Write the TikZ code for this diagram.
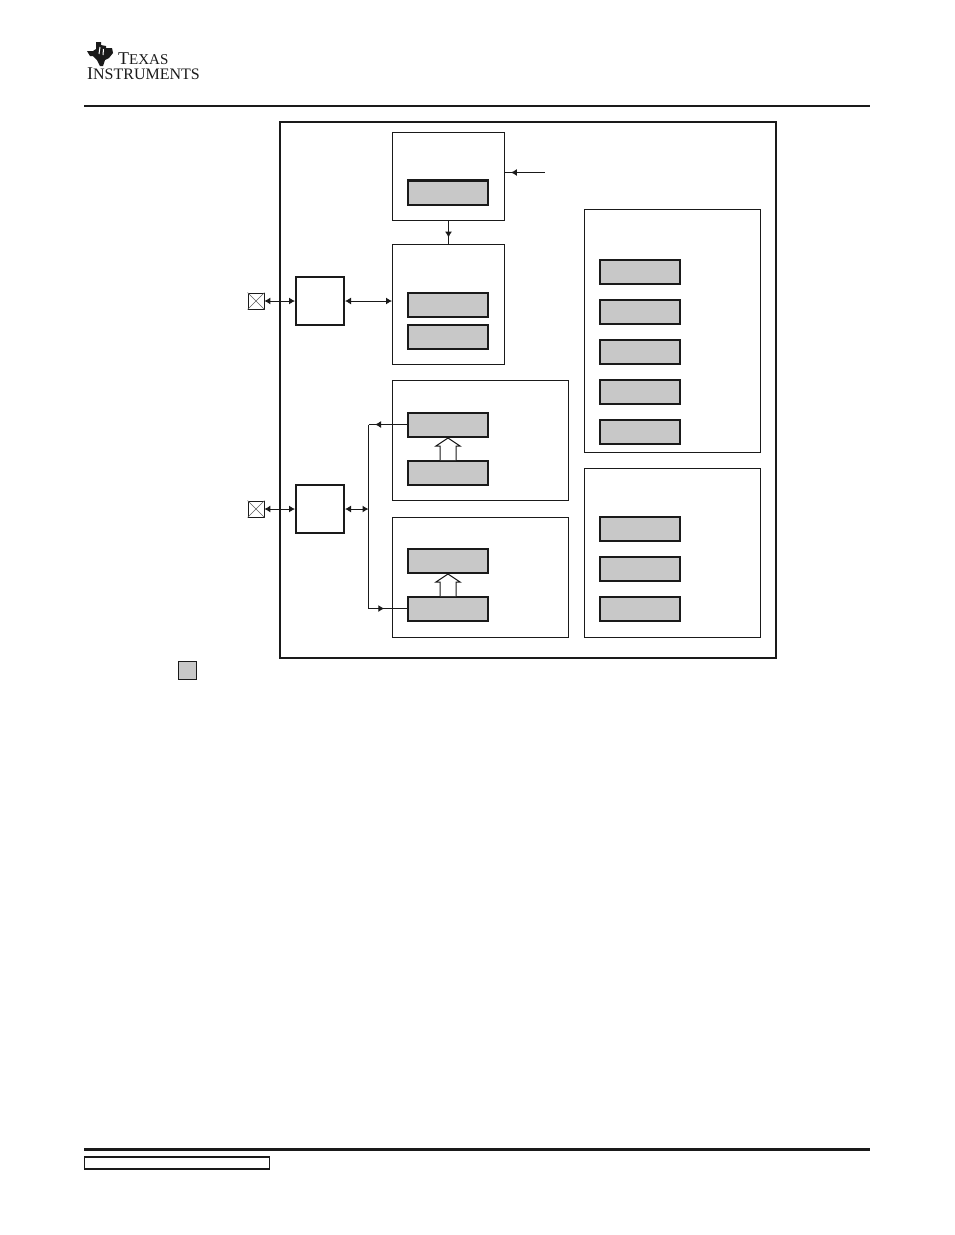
\documentclass[tikz,border=0pt]{standalone}
\usepackage{fontspec}
\setmainfont{Liberation Serif}
\usetikzlibrary{arrows.meta,decorations.markings,calc}
\definecolor{blockgray}{HTML}{C8C8C8}
\definecolor{inkblack}{HTML}{1A1A1A}
\tikzset{
  outerbox/.style={draw=inkblack, line width=2pt},
  groupbox/.style={draw=inkblack, line width=1pt, inner sep=0pt},
  regbox/.style={draw=inkblack, line width=2pt, fill=blockgray, minimum width=80pt, minimum height=24pt, inner sep=0pt},
  logicbox/.style={draw=inkblack, line width=2pt, minimum width=48pt, minimum height=48pt, inner sep=0pt},
  pinbox/.style={draw=inkblack, line width=0.8pt, minimum width=16pt, minimum height=16pt, inner sep=0pt},
  signal/.style={draw=inkblack, line width=1pt},
  hollow/.style={draw=inkblack, line width=1pt, fill=white, line join=miter},
  tipat/.style={postaction={decorate}, decoration={markings, mark=at position #1 with {\arrow[inkblack]{Latex[length=6pt,width=7pt]}}}},
  bothtips/.style={{Latex[length=6pt,width=7pt]}-{Latex[length=6pt,width=7pt]}, inkblack, line width=1pt},
  logotext/.style={anchor=base west, inner sep=0pt, text=inkblack}
}
\newcommand{\groupat}[5]{\node[groupbox, minimum width=#3pt, minimum height=#4pt] (#5) at (#1,#2) {};}
\begin{document}
\begin{tikzpicture}[x=1pt, y=-1pt]
\useasboundingbox (0,0) rectangle (954,1235);
% header and footer
\fill[inkblack] (87,51) -- (93,51) -- (96,49) -- (96,42) -- (101,42) -- (101,45) -- (106,46) -- (106,48) -- (112,48) -- (113,53) -- (109,58) -- (105,60) -- (103,66) -- (100,66) -- (97,60) -- (93,56) -- (90,56) -- cycle;
\draw[white, line width=1pt] (100,47) -- (99,54) (103.5,49) -- (103,55);
\node[logotext] (logotop) at (118,64.5) {\fontsize{18}{18}\selectfont T\fontsize{15}{15}\selectfont EXAS};
\node[logotext] (logobottom) at (87,79.3) {\fontsize{18}{18}\selectfont I\fontsize{16}{16}\selectfont NSTRUMENTS};
\draw[inkblack, line width=2pt] (84,106) -- (870,106);
\draw[inkblack, line width=3pt] (84,1149) -- (870,1149);
\draw[inkblack, line width=1.5pt] (84.5,1157) rectangle (269.5,1169);
% main frame
\draw[outerbox] (280,122) rectangle (776,658);
% groups
\groupat{448.5}{176.5}{112}{88}{clkbox}
\groupat{448.5}{304.5}{112}{120}{ctlbox}
\groupat{480.5}{440.5}{176}{120}{txbox}
\groupat{480.5}{577.5}{176}{120}{rxbox}
\groupat{672.5}{331}{176}{243}{regsbox}
\groupat{672.5}{553}{176}{169}{statbox}
% registers
\node[regbox] (clkreg) at (448,193) {};
\draw[inkblack, line width=2pt] ($(clkreg.north west)+(0,-0.5)$) -- ($(clkreg.north east)+(0,-0.5)$);
\node[regbox] (ctlrega) at (448,305) {};
\node[regbox] (ctlregb) at (448,337) {};
\node[regbox] (txrega) at (448,425) {};
\node[regbox] (txregb) at (448,473) {};
\node[regbox] (rxrega) at (448,561) {};
\node[regbox] (rxregb) at (448,609) {};
\foreach \y/\n in {272/a,312/b,352/c,392/d,432/e}
  \node[regbox] (cfgreg\n) at (640,\y) {};
\foreach \y/\n in {529/a,569/b,609/c}
  \node[regbox] (statreg\n) at (640,\y) {};
% pins and logic
\node[logicbox] (ctllogic) at (320,301) {};
\node[logicbox] (datalogic) at (320,509) {};
\node[pinbox] (ctlpin) at (256,301) {};
\node[pinbox] (datapin) at (256,509) {};
\foreach \p in {ctlpin,datapin} {
  \draw[inkblack!70, line width=0.5pt] (\p.north west) -- (\p.south east);
  \draw[inkblack!70, line width=0.5pt] (\p.north east) -- (\p.south west);
}
% connectors
\coordinate (clkin) at (544.5,172.5);
\coordinate (busjoin) at (368.5,509);
\coordinate (bustop) at (368.5,424.5);
\coordinate (busbottom) at (368.5,608.5);
\draw[signal, tipat=0.85] (clkin) -- (clkin -| clkbox.east);
\draw[signal, tipat=0.72] (clkbox.south) -- (ctlbox.north);
\draw[bothtips] (ctlpin.east) -- (ctllogic.west);
\draw[bothtips] (ctllogic.east) -- (ctllogic.east -| ctlbox.west);
\draw[bothtips] (datapin.east) -- (datalogic.west);
\draw[bothtips] (datalogic.east) -- (busjoin);
\draw[signal] (bustop) -- (busbottom);
\draw[signal, tipat=0.83] (txrega.west |- bustop) -- (bustop);
\draw[signal, tipat=0.41] (busbottom) -- (rxregb.west |- busbottom);
% hollow arrows
\foreach \lo/\hi in {txregb/txrega,rxregb/rxrega}
  \draw[hollow] ($(\lo.north)+(-8,0)$) -- ($(\hi.south)+(-8,8)$) -- ($(\hi.south)+(-12,8)$) -- (\hi.south) -- ($(\hi.south)+(12,8)$) -- ($(\hi.south)+(8,8)$) -- ($(\lo.north)+(8,0)$);
% legend
\node[draw=inkblack, line width=0.8pt, fill=blockgray, minimum width=18pt, minimum height=18pt, inner sep=0pt] (legendkey) at (187,670) {};
\end{tikzpicture}
\end{document}
